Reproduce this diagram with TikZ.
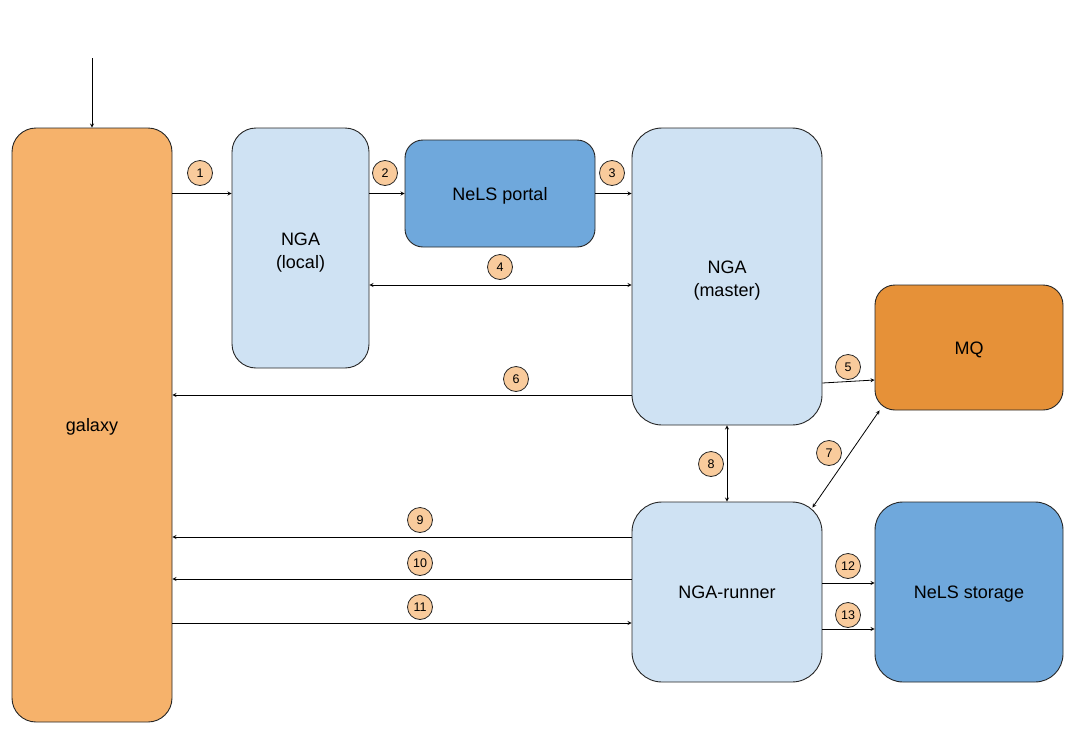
\documentclass[tikz,border=0pt]{standalone}
\usepackage{xcolor}
\usepackage{fontspec}
\setmainfont{Liberation Sans}
\usetikzlibrary{shapes.geometric, arrows}
\definecolor{galaxyorange}{HTML}{F6B26B}
\definecolor{lightblue}{HTML}{CFE2F3}
\definecolor{midblue}{HTML}{6FA8DC}
\definecolor{mqorange}{HTML}{E69138}
\definecolor{numfill}{HTML}{F9CB9C}
\tikzstyle{box} = [rectangle, rounded corners=24pt, text centered, align=center, text height=13pt, text depth=0pt, draw=black!85, line width=0.9pt, font=\fontsize{18}{23}\selectfont]
\tikzstyle{twoline} = [text height=40pt]
\tikzstyle{galaxybox} = [box, fill=galaxyorange, minimum width=160pt, minimum height=594pt]
\tikzstyle{ngabox} = [box, fill=lightblue]
\tikzstyle{nelsbox} = [box, fill=midblue]
\tikzstyle{mqbox} = [box, fill=mqorange]
\tikzstyle{numcircle} = [circle, draw=black!85, line width=0.8pt, fill=numfill, minimum size=25pt, inner sep=0pt, font=\fontsize{12.5}{14}\selectfont]
\tikzstyle{arrow} = [line width=0.8pt,->,>=stealth]
\tikzstyle{dblarrow} = [line width=0.8pt,<->,>=stealth]

\begin{document}
\begin{tikzpicture}[x=1pt, y=1pt]

    \useasboundingbox (0,0) rectangle (1081,-744);

    % Boxes
    \node (galaxy) [galaxybox] at (92,-425) {galaxy};
    \node (local) [ngabox, twoline, minimum width=137pt, minimum height=240pt] at (300.5,-248) {NGA\\(local)};
    \node (portal) [nelsbox, rounded corners=18pt, minimum width=190pt, minimum height=107pt] at (500,-193.5) {NeLS portal};
    \node (master) [ngabox, twoline, rounded corners=30pt, minimum width=190pt, minimum height=297pt] at (727,-276.5) {NGA\\(master)};
    \node (mq) [mqbox, rounded corners=20pt, minimum width=188pt, minimum height=125pt] at (969,-347.5) {MQ};
    \node (runner) [ngabox, rounded corners=30pt, minimum width=190pt, minimum height=180pt] at (727,-592) {NGA-runner};
    \node (storage) [nelsbox, rounded corners=28pt, minimum width=188pt, minimum height=180pt] at (969,-592) {NeLS storage};

    % Levels of the connectors
    \coordinate (top) at (92,-58);
    \coordinate (l4) at (0,-285);
    \coordinate (l6) at (0,-395);
    \coordinate (l9) at (0,-537);
    \coordinate (l10) at (0,-579);
    \coordinate (l11) at (0,-623);
    \coordinate (l12) at (0,-583);
    \coordinate (l13) at (0,-629);

    % Arrows
    \draw [arrow] (top) -- (galaxy.north);
    \draw [arrow] (galaxy.east |- portal) -- (local.west |- portal);
    \draw [arrow] (local.east |- portal) -- (portal.west);
    \draw [arrow] (portal.east) -- (master.west |- portal);
    \draw [dblarrow] (local.east |- l4) -- (master.west |- l4);
    \draw [arrow] ([yshift=-106.5pt]master.east) -- ([yshift=-32.5pt]mq.west);
    \draw [arrow] (master.west |- l6) -- (galaxy.east |- l6);
    \draw [dblarrow] ([xshift=5pt]mq.south west) -- ([xshift=-10pt,yshift=-6pt]runner.north east);
    \draw [dblarrow] (master.south) -- (runner.north);
    \draw [arrow] (runner.west |- l9) -- (galaxy.east |- l9);
    \draw [arrow] (runner.west |- l10) -- (galaxy.east |- l10);
    \draw [arrow] (galaxy.east |- l11) -- (runner.west |- l11);
    \draw [arrow] (runner.east |- l12) -- (storage.west |- l12);
    \draw [arrow] (runner.east |- l13) -- (storage.west |- l13);

    % Numbers
    \node (n1) [numcircle] at (200,-173) {1};
    \node (n2) [numcircle] at (385,-173) {2};
    \node (n3) [numcircle] at (612,-173) {3};
    \node (n4) [numcircle] at (500,-267) {4};
    \node (n5) [numcircle] at (848,-367) {5};
    \node (n6) [numcircle] at (516,-379) {6};
    \node (n7) [numcircle] at (829,-453) {7};
    \node (n8) [numcircle] at (711,-464) {8};
    \node (n9) [numcircle] at (420,-520) {9};
    \node (n10) [numcircle] at (420,-563) {10};
    \node (n11) [numcircle] at (420,-607) {11};
    \node (n12) [numcircle] at (848,-566) {12};
    \node (n13) [numcircle] at (848,-615) {13};

\end{tikzpicture}
\end{document}
